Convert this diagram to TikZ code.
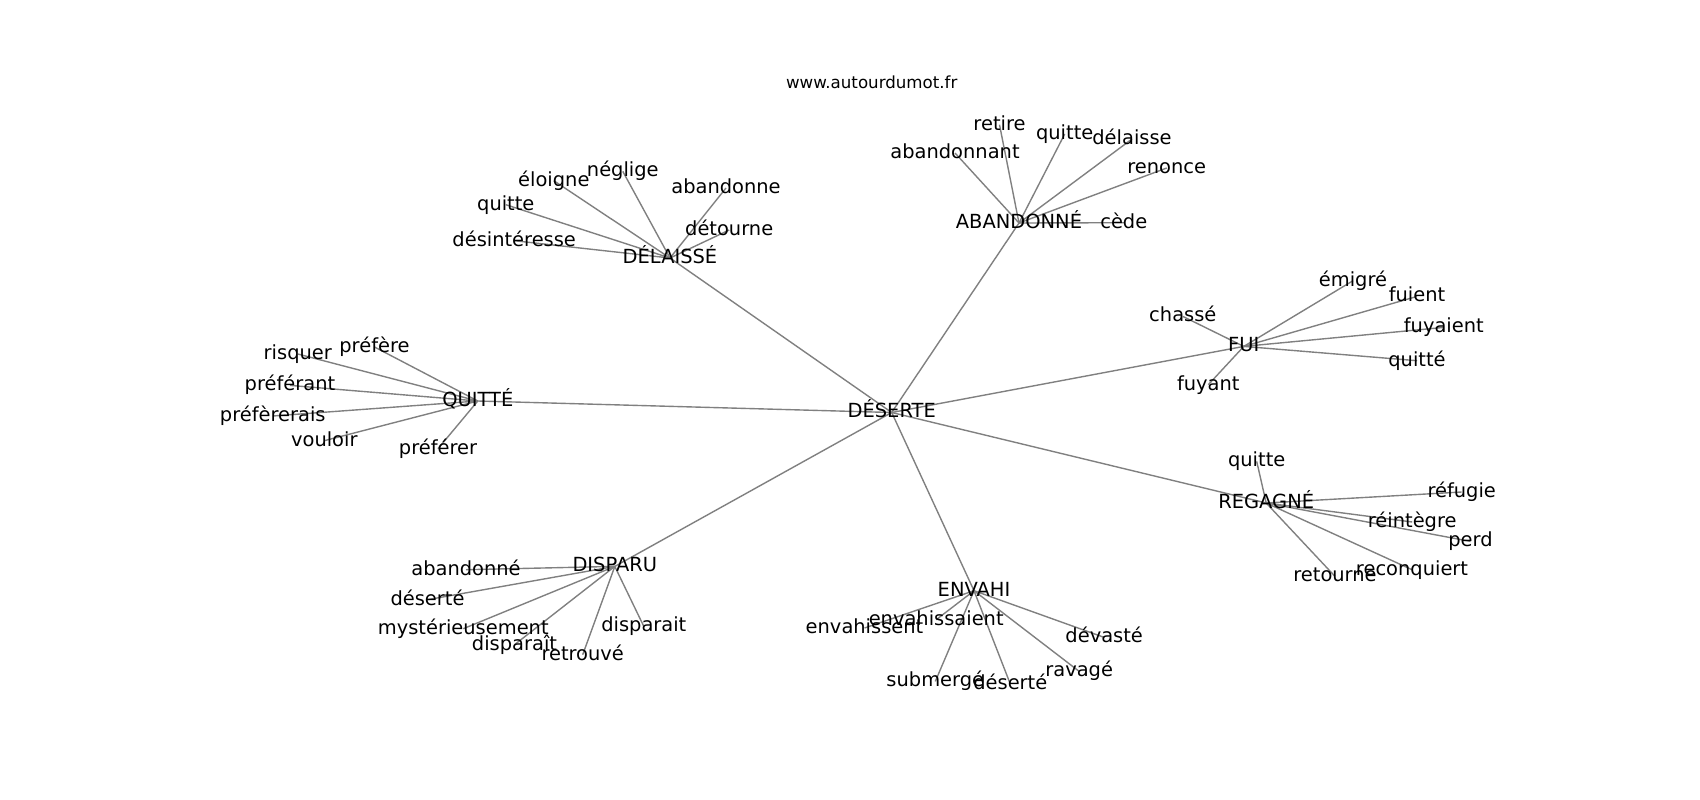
\documentclass[tikz,border=0pt]{standalone}
\usepackage{fontspec}
\setmainfont{DejaVu Sans}
\pgfdeclarelayer{background}
\pgfsetlayers{background,main}
\begin{document}
\begin{tikzpicture}[x=0.72bp,y=-0.72bp,
  word/.style={font=\fontsize{14.05}{16}\selectfont, inner sep=0pt, text height=10.6bp, text depth=2.9bp, anchor=center},
  ttl/.style={font=\fontsize{12.04}{14}\selectfont, inner sep=0pt, anchor=base},
  edge/.style={draw=gray, line width=1bp}]
\useasboundingbox (0,0) rectangle (1700,800);
\node[ttl] (title) at (871.7,88.3) {www.autourdumot.fr};
% hubs
\node[word] (deserte) at (891.7,412.5) {DÉSERTE};
\node[word] (delaisse) at (670,258) {DÉLAISSÉ};
\node[word] (abandonne) at (1019,223) {ABANDONNÉ};
\node[word] (quitteH) at (477.8,401) {QUITTÉ};
\node[word] (fui) at (1243.8,346.4) {FUI};
\node[word] (regagne) at (1266.2,503) {REGAGNÉ};
\node[word] (disparu) at (614.8,566.4) {DISPARU};
\node[word] (envahi) at (974,590.7) {ENVAHI};
% DÉLAISSÉ
\node[word] (d1) at (553.8,180.7) {éloigne};
\node[word] (d2) at (622.8,171.4) {néglige};
\node[word] (d3) at (726,188) {abandonne};
\node[word] (d4) at (505.8,204.7) {quitte};
\node[word] (d5) at (729.2,230) {détourne};
\node[word] (d6) at (514.2,240.7) {désintéresse};
% ABANDONNÉ
\node[word] (a1) at (999.5,124.7) {retire};
\node[word] (a2) at (1064.7,134) {quitte};
\node[word] (a3) at (1132,139) {délaisse};
\node[word] (a4) at (955,153) {abandonnant};
\node[word] (a5) at (1166.7,168) {renonce};
\node[word] (a6) at (1123.8,222.7) {cède};
% QUITTÉ
\node[word] (q1) at (297.8,354) {risquer};
\node[word] (q2) at (374.5,347) {préfère};
\node[word] (q3) at (290,385.4) {préférant};
\node[word] (q4) at (272.8,416) {préfèrerais};
\node[word] (q5) at (324.3,440.7) {vouloir};
\node[word] (q6) at (438,448.7) {préférer};
% FUI
\node[word] (f1) at (1353,280.7) {émigré};
\node[word] (f2) at (1417,296.4) {fuient};
\node[word] (f3) at (1182.8,316.4) {chassé};
\node[word] (f4) at (1443.8,327.4) {fuyaient};
\node[word] (f5) at (1417,360.7) {quitté};
\node[word] (f6) at (1208.3,384.7) {fuyant};
% REGAGNÉ
\node[word] (r1) at (1256.7,461.4) {quitte};
\node[word] (r2) at (1461.7,492) {réfugie};
\node[word] (r3) at (1412.2,522) {réintègre};
\node[word] (r4) at (1470.5,541.4) {perd};
\node[word] (r5) at (1412,569.7) {reconquiert};
\node[word] (r6) at (1335,576.4) {retourne};
% DISPARU
\node[word] (p1) at (466,569.7) {abandonné};
\node[word] (p2) at (427.5,599.7) {déserté};
\node[word] (p3) at (463.3,628.7) {mystérieusement};
\node[word] (p4) at (643.8,626.4) {disparait};
\node[word] (p5) at (514.5,644.7) {disparaît};
\node[word] (p6) at (582.7,654.7) {retrouvé};
% ENVAHI
\node[word] (e1) at (936.2,619.7) {envahissaient};
\node[word] (e2) at (864.5,628) {envahissent};
\node[word] (e3) at (1104.2,637.4) {dévasté};
\node[word] (e4) at (1079.2,671.4) {ravagé};
\node[word] (e5) at (935.3,681.4) {submergé};
\node[word] (e6) at (1010.3,684) {déserté};
\begin{pgfonlayer}{background}
\fill[white] (0,0) rectangle (1700,800);
\foreach \h in {delaisse,abandonne,quitteH,fui,regagne,disparu,envahi}
  \draw[edge] (deserte.center) -- (\h.center);
\foreach \l in {d1,d2,d3,d4,d5,d6} \draw[edge] (delaisse.center) -- (\l.center);
\foreach \l in {a1,a2,a3,a4,a5,a6} \draw[edge] (abandonne.center) -- (\l.center);
\foreach \l in {q1,q2,q3,q4,q5,q6} \draw[edge] (quitteH.center) -- (\l.center);
\foreach \l in {f1,f2,f3,f4,f5,f6} \draw[edge] (fui.center) -- (\l.center);
\foreach \l in {r1,r2,r3,r4,r5,r6} \draw[edge] (regagne.center) -- (\l.center);
\foreach \l in {p1,p2,p3,p4,p5,p6} \draw[edge] (disparu.center) -- (\l.center);
\foreach \l in {e1,e2,e3,e4,e5,e6} \draw[edge] (envahi.center) -- (\l.center);
\end{pgfonlayer}
\end{tikzpicture}
\end{document}
